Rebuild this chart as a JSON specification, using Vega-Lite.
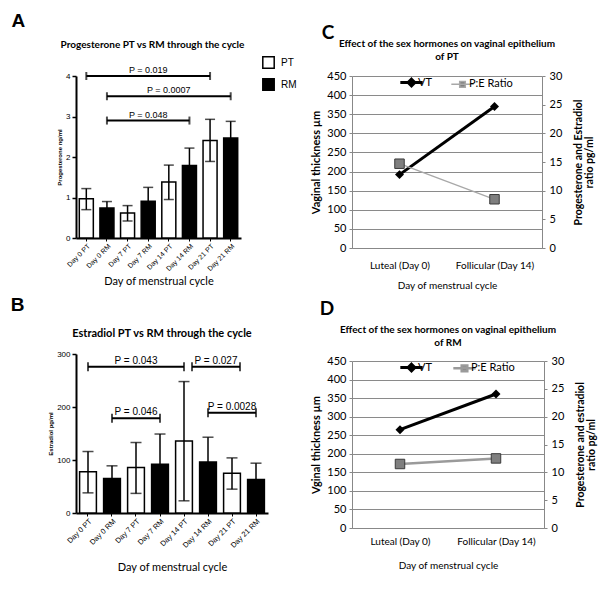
{
  "$schema": "https://vega.github.io/schema/vega-lite/v6.json",
  "background": "white",
  "padding": {"left": 10, "top": 12, "right": 4, "bottom": 4},
  "config": {"view": {"stroke": null}},
  "datasets": {
    "A": [
      {"cat": "Day 0 PT", "group": "PT", "value": 0.97, "lo": 0.70, "hi": 1.22},
      {"cat": "Day 0 RM", "group": "RM", "value": 0.74, "lo": 0.58, "hi": 0.90},
      {"cat": "Day 7 PT", "group": "PT", "value": 0.62, "lo": 0.42, "hi": 0.80},
      {"cat": "Day 7 RM", "group": "RM", "value": 0.91, "lo": 0.57, "hi": 1.25},
      {"cat": "Day 14 PT", "group": "PT", "value": 1.38, "lo": 0.95, "hi": 1.80},
      {"cat": "Day 14 RM", "group": "RM", "value": 1.79, "lo": 1.36, "hi": 2.22},
      {"cat": "Day 21 PT", "group": "PT", "value": 2.41, "lo": 1.89, "hi": 2.93},
      {"cat": "Day 21 RM", "group": "RM", "value": 2.47, "lo": 2.06, "hi": 2.88}
    ],
    "Abr": [
      {"from": "Day 0 PT", "to": "Day 21 PT", "mid": "Day 7 RM", "y": 4.0, "label": "P = 0.019"},
      {"from": "Day 0 RM", "to": "Day 21 RM", "mid": "Day 14 PT", "y": 3.5, "label": "P = 0.0007"},
      {"from": "Day 0 RM", "to": "Day 14 RM", "mid": "Day 7 RM", "y": 2.9, "label": "P = 0.048"}
    ],
    "B": [
      {"cat": "Day 0 PT", "group": "PT", "value": 78, "lo": 38, "hi": 116},
      {"cat": "Day 0 RM", "group": "RM", "value": 65, "lo": 41, "hi": 89},
      {"cat": "Day 7 PT", "group": "PT", "value": 86, "lo": 37, "hi": 133},
      {"cat": "Day 7 RM", "group": "RM", "value": 92, "lo": 35, "hi": 149},
      {"cat": "Day 14 PT", "group": "PT", "value": 136, "lo": 23, "hi": 248},
      {"cat": "Day 14 RM", "group": "RM", "value": 96, "lo": 49, "hi": 143},
      {"cat": "Day 21 PT", "group": "PT", "value": 75, "lo": 45, "hi": 104},
      {"cat": "Day 21 RM", "group": "RM", "value": 63, "lo": 32, "hi": 94}
    ],
    "Bbr": [
      {"from": "Day 0 PT", "to": "Day 14 PT", "mid": "Day 7 PT", "y": 276, "label": "P = 0.043"},
      {"from": "Day 14 PT", "to": "Day 21 PT", "mid": "Day 14 RM", "y": 276, "label": "P = 0.027"},
      {"from": "Day 0 RM", "to": "Day 7 RM", "mid": "Day 7 PT", "y": 179, "label": "P = 0.046"},
      {"from": "Day 14 RM", "to": "Day 21 RM", "mid": "Day 21 PT", "y": 189, "label": "P = 0.0028"}
    ],
    "C": [
      {"phase": "Luteal (Day 0)", "VT": 192, "PE": 14.7},
      {"phase": "Follicular (Day 14)", "VT": 370, "PE": 8.5}
    ],
    "D": [
      {"phase": "Luteal (Day 0)", "VT": 265, "PE": 11.5},
      {"phase": "Follicular (Day 14)", "VT": 361, "PE": 12.5}
    ]
  },
  "spacing": 13,
  "resolve": {"scale": {"color": "independent", "fill": "independent"}, "legend": {"color": "independent", "fill": "independent"}},
  "hconcat": [
    {
      "spacing": 9,
      "resolve": {"scale": {"fill": "independent"}, "legend": {"fill": "independent"}},
      "vconcat": [
        {
          "title": {"text": "A", "anchor": "start", "font": "Liberation Sans", "fontSize": 19, "fontWeight": "bold", "color": "black", "dx": -45, "offset": 9},
          "resolve": {"scale": {"fill": "independent"}, "legend": {"fill": "independent"}},
          "vconcat": [
            {
              "width": 165,
              "height": 162,
              "title": {"text": "Progesterone PT vs RM through the cycle", "font": "Lato", "fontSize": 10, "fontWeight": "bold", "color": "black", "frame": "group", "anchor": "middle", "dx": -6, "offset": 6},
              "layer": [
                {
                  "data": {"name": "A"},
                  "layer": [
                    {
                      "mark": {"type": "bar", "stroke": "black", "strokeWidth": 1.5},
                      "encoding": {
                        "x": {"field": "cat", "type": "nominal", "sort": null,
                          "scale": {"domain": ["Day 0 PT", "Day 0 RM", "Day 7 PT", "Day 7 RM", "Day 14 PT", "Day 14 RM", "Day 21 PT", "Day 21 RM"], "paddingInner": 0.32, "paddingOuter": 0.16},
                          "axis": {"title": "Day of menstrual cycle", "titleFont": "Lato", "titleFontSize": 11, "titleFontWeight": "normal", "titleColor": "black", "labelAngle": -45, "labelFont": "Liberation Sans", "labelFontSize": 7, "labelColor": "black", "labelPadding": 1, "domainColor": "black", "domainWidth": 2, "tickColor": "black", "tickSize": 3, "titlePadding": 4}},
                        "y": {"field": "value", "type": "quantitative", "scale": {"domain": [0, 4], "nice": false},
                          "axis": {"title": "Progesterone ng/ml", "titleFont": "Liberation Sans", "titleFontSize": 6, "titleFontWeight": "bold", "titleColor": "black", "values": [0, 1, 2, 3, 4], "labelFont": "Liberation Sans", "labelFontSize": 8, "labelColor": "black", "domainColor": "black", "domainWidth": 2, "tickColor": "black", "tickWidth": 1.5, "tickSize": 4, "grid": false, "titlePadding": 3}},
                        "fill": {"field": "group", "type": "nominal", "scale": {"domain": ["PT", "RM"], "range": ["white", "black"]},
                          "legend": {"title": null, "orient": "none", "legendX": 186, "legendY": -20, "symbolType": "square", "symbolSize": 130, "symbolStrokeColor": "black", "symbolStrokeWidth": 1.5, "labelFont": "Liberation Sans", "labelFontSize": 10, "labelColor": "black", "rowPadding": 3, "labelOffset": 6}}
                      }
                    },
                    {
                      "mark": {"type": "rule", "color": "black", "strokeWidth": 1.5},
                      "encoding": {"x": {"field": "cat", "type": "nominal"}, "y": {"field": "lo", "type": "quantitative"}, "y2": {"field": "hi"}}
                    },
                    {
                      "mark": {"type": "tick", "color": "black", "thickness": 1.5, "size": 10},
                      "encoding": {"x": {"field": "cat", "type": "nominal"}, "y": {"field": "hi", "type": "quantitative"}}
                    },
                    {
                      "mark": {"type": "tick", "color": "black", "thickness": 1.5, "size": 10},
                      "encoding": {"x": {"field": "cat", "type": "nominal"}, "y": {"field": "lo", "type": "quantitative"}}
                    }
                  ]
                },
                {
                  "data": {"name": "Abr"},
                  "layer": [
                    {"mark": {"type": "rule", "color": "black", "strokeWidth": 2},
                      "encoding": {"x": {"field": "from", "type": "nominal"}, "x2": {"field": "to"}, "y": {"field": "y", "type": "quantitative"}}},
                    {"mark": {"type": "tick", "orient": "vertical", "color": "black", "thickness": 2, "size": 8},
                      "encoding": {"x": {"field": "from", "type": "nominal"}, "y": {"field": "y", "type": "quantitative"}}},
                    {"mark": {"type": "tick", "orient": "vertical", "color": "black", "thickness": 2, "size": 8},
                      "encoding": {"x": {"field": "to", "type": "nominal"}, "y": {"field": "y", "type": "quantitative"}}},
                    {"mark": {"type": "text", "font": "Liberation Sans", "fontSize": 9, "baseline": "bottom", "dy": -1, "color": "black"},
                      "encoding": {"x": {"field": "mid", "type": "nominal"}, "y": {"field": "y", "type": "quantitative"}, "text": {"field": "label"}}}
                  ]
                }
              ]
            }
          ]
        },
        {
          "title": {"text": "B", "anchor": "start", "font": "Liberation Sans", "fontSize": 19, "fontWeight": "bold", "color": "black", "dx": -37, "offset": 13},
          "vconcat": [
            {
              "width": 192,
              "height": 159,
              "title": {"text": "Estradiol PT vs RM through the cycle", "font": "Lato", "fontSize": 11, "fontWeight": "bold", "color": "black", "frame": "group", "anchor": "middle", "dx": -10, "offset": 11},
              "layer": [
                {
                  "data": {"name": "B"},
                  "layer": [
                    {
                      "mark": {"type": "bar", "stroke": "black", "strokeWidth": 1.5},
                      "encoding": {
                        "x": {"field": "cat", "type": "nominal", "sort": null,
                          "scale": {"domain": ["Day 0 PT", "Day 0 RM", "Day 7 PT", "Day 7 RM", "Day 14 PT", "Day 14 RM", "Day 21 PT", "Day 21 RM"], "paddingInner": 0.3, "paddingOuter": 0.15},
                          "axis": {"title": "Day of menstrual cycle", "titleFont": "Lato", "titleFontSize": 11, "titleFontWeight": "normal", "titleColor": "black", "labelAngle": -45, "labelFont": "Liberation Sans", "labelFontSize": 7.5, "labelColor": "black", "labelPadding": 1, "domainColor": "black", "domainWidth": 2, "tickColor": "black", "tickSize": 3, "titlePadding": 13}},
                        "y": {"field": "value", "type": "quantitative", "scale": {"domain": [0, 300], "nice": false},
                          "axis": {"title": "Estradiol pg/ml", "titleFont": "Liberation Sans", "titleFontSize": 6, "titleFontWeight": "bold", "titleColor": "black", "values": [0, 100, 200, 300], "labelFont": "Liberation Sans", "labelFontSize": 8, "labelColor": "black", "domainColor": "black", "domainWidth": 2, "tickColor": "black", "tickWidth": 1.5, "tickSize": 4, "grid": false, "titlePadding": 3}},
                        "fill": {"field": "group", "type": "nominal", "scale": {"domain": ["PT", "RM"], "range": ["white", "black"]}, "legend": null}
                      }
                    },
                    {
                      "mark": {"type": "rule", "color": "black", "strokeWidth": 1.5},
                      "encoding": {"x": {"field": "cat", "type": "nominal"}, "y": {"field": "lo", "type": "quantitative"}, "y2": {"field": "hi"}}
                    },
                    {
                      "mark": {"type": "tick", "color": "black", "thickness": 1.5, "size": 11},
                      "encoding": {"x": {"field": "cat", "type": "nominal"}, "y": {"field": "hi", "type": "quantitative"}}
                    },
                    {
                      "mark": {"type": "tick", "color": "black", "thickness": 1.5, "size": 11},
                      "encoding": {"x": {"field": "cat", "type": "nominal"}, "y": {"field": "lo", "type": "quantitative"}}
                    }
                  ]
                },
                {
                  "data": {"name": "Bbr"},
                  "transform": [{"filter": "datum.label !== 'P = 0.027'"}],
                  "layer": [
                    {"mark": {"type": "rule", "color": "black", "strokeWidth": 2},
                      "encoding": {"x": {"field": "from", "type": "nominal"}, "x2": {"field": "to"}, "y": {"field": "y", "type": "quantitative"}}},
                    {"mark": {"type": "tick", "orient": "vertical", "color": "black", "thickness": 2, "size": 9},
                      "encoding": {"x": {"field": "from", "type": "nominal"}, "y": {"field": "y", "type": "quantitative"}}},
                    {"mark": {"type": "tick", "orient": "vertical", "color": "black", "thickness": 2, "size": 9},
                      "encoding": {"x": {"field": "to", "type": "nominal"}, "y": {"field": "y", "type": "quantitative"}}},
                    {"mark": {"type": "text", "font": "Liberation Sans", "fontSize": 10, "baseline": "bottom", "dy": -1, "color": "black"},
                      "encoding": {"x": {"field": "mid", "type": "nominal"}, "y": {"field": "y", "type": "quantitative"}, "text": {"field": "label"}}}
                  ]
                },
                {
                  "data": {"name": "Bbr"},
                  "transform": [{"filter": "datum.label === 'P = 0.027'"}],
                  "layer": [
                    {"mark": {"type": "rule", "color": "black", "strokeWidth": 2, "xOffset": 8, "x2Offset": 8},
                      "encoding": {"x": {"field": "from", "type": "nominal"}, "x2": {"field": "to"}, "y": {"field": "y", "type": "quantitative"}}},
                    {"mark": {"type": "tick", "orient": "vertical", "color": "black", "thickness": 2, "size": 9, "xOffset": 8},
                      "encoding": {"x": {"field": "from", "type": "nominal"}, "y": {"field": "y", "type": "quantitative"}}},
                    {"mark": {"type": "tick", "orient": "vertical", "color": "black", "thickness": 2, "size": 9, "xOffset": 8},
                      "encoding": {"x": {"field": "to", "type": "nominal"}, "y": {"field": "y", "type": "quantitative"}}},
                    {"mark": {"type": "text", "font": "Liberation Sans", "fontSize": 10, "baseline": "bottom", "dy": -1, "color": "black", "xOffset": 8},
                      "encoding": {"x": {"field": "mid", "type": "nominal"}, "y": {"field": "y", "type": "quantitative"}, "text": {"field": "label"}}}
                  ]
                }
              ]
            }
          ]
        }
      ]
    },
    {
      "spacing": 10,
      "resolve": {"scale": {"color": "independent"}, "legend": {"color": "independent"}},
      "vconcat": [
        {
          "title": {"text": "C", "anchor": "start", "font": "Lato", "fontSize": 19, "fontWeight": "bold", "color": "black", "dx": 11, "offset": -4},
          "resolve": {"scale": {"color": "independent"}, "legend": {"color": "independent"}},
          "vconcat": [
            {
              "width": 190,
              "height": 172,
              "title": {"text": ["Effect of the sex hormones on vaginal epithelium", "of PT"], "font": "Lato", "fontSize": 10, "fontWeight": "bold", "color": "black", "lineHeight": 13, "frame": "group", "anchor": "middle", "offset": 8},
              "data": {"name": "C"},
              "encoding": {
                "x": {"field": "phase", "type": "nominal", "sort": null, "scale": {"paddingInner": 0, "paddingOuter": 0},
                  "axis": {"title": "Day of menstrual cycle", "titleFont": "Lato", "titleFontSize": 10, "titleFontWeight": "normal", "titleColor": "black", "labelAngle": 0, "labelFont": "Lato", "labelFontSize": 10, "labelColor": "black", "labelPadding": 12, "domainColor": "#888", "ticks": false, "titlePadding": 10}}
              },
              "layer": [
                {
                  "encoding": {"y": {"field": "VT", "type": "quantitative", "scale": {"domain": [0, 450], "nice": false},
                    "axis": {"title": "Vaginal thickness µm", "titleFont": "Lato", "titleFontSize": 11, "titleFontWeight": "bold", "titleColor": "black", "values": [0, 50, 100, 150, 200, 250, 300, 350, 400, 450], "labelFont": "Lato", "labelFontSize": 11, "labelColor": "black", "domainColor": "#888", "tickColor": "#888", "tickSize": 3, "grid": true, "gridColor": "#8a8a8a", "gridOpacity": 1, "labelPadding": 3, "titlePadding": 5}}},
                  "layer": [
                    {"mark": {"type": "line", "strokeWidth": 3},
                      "encoding": {"color": {"datum": "VT", "type": "nominal", "scale": {"domain": ["VT", "P:E Ratio"], "range": ["black", "#a8a8a8"]},
                        "legend": {"title": null, "orient": "none", "legendX": 54, "legendY": 1, "direction": "horizontal", "labelFont": "Lato", "labelFontSize": 11, "labelColor": "black", "symbolSize": 500, "columnPadding": 16, "labelOffset": 1,
                          "encode": {"symbols": {"update": {
                            "shape": {"signal": "datum.value === 'VT' ? 'M-1,0L1,0M0,-0.3L0.3,0L0,0.3L-0.3,0Z' : 'M-1,0L1,0M-0.25,-0.25L0.25,-0.25L0.25,0.25L-0.25,0.25Z'"},
                            "fill": {"signal": "datum.value === 'VT' ? 'black' : '#7f7f7f'"},
                            "strokeWidth": {"signal": "datum.value === 'VT' ? 3 : 1.5"}}}}}}}},
                    {"mark": {"type": "point", "shape": "diamond", "filled": true, "color": "black", "size": 80, "opacity": 1}}
                  ]
                },
                {
                  "encoding": {"y": {"field": "PE", "type": "quantitative", "scale": {"domain": [0, 30], "nice": false},
                    "axis": {"orient": "right", "title": ["Progesterone and Estradiol", "ratio pg/ml"], "titleAngle": 270, "titleFont": "Lato", "titleFontSize": 10.5, "titleLineHeight": 11, "titleFontWeight": "bold", "titleColor": "black", "values": [0, 5, 10, 15, 20, 25, 30], "labelFont": "Lato", "labelFontSize": 11, "labelColor": "black", "domainColor": "#888", "tickColor": "#888", "tickSize": 3, "grid": false, "labelPadding": 4, "titlePadding": 11}}},
                  "layer": [
                    {"mark": {"type": "line", "strokeWidth": 1.3},
                      "encoding": {"color": {"datum": "P:E Ratio", "type": "nominal"}}},
                    {"mark": {"type": "point", "shape": "square", "filled": true, "fill": "#7f7f7f", "stroke": "#3a3a3a", "strokeWidth": 1, "size": 90, "opacity": 1}}
                  ]
                }
              ],
              "resolve": {"scale": {"y": "independent"}}
            }
          ]
        },
        {
          "title": {"text": "D", "anchor": "start", "font": "Lato", "fontSize": 19, "fontWeight": "bold", "color": "black", "dx": 9, "offset": 6},
          "resolve": {"scale": {"color": "independent"}, "legend": {"color": "independent"}},
          "vconcat": [
            {
              "width": 192,
              "height": 167,
              "title": {"text": ["Effect of the sex hormones on vaginal epithelium", "of RM"], "font": "Lato", "fontSize": 10, "fontWeight": "bold", "color": "black", "lineHeight": 13, "frame": "group", "anchor": "middle", "offset": 7},
              "data": {"name": "D"},
              "encoding": {
                "x": {"field": "phase", "type": "nominal", "sort": null, "scale": {"paddingInner": 0, "paddingOuter": 0},
                  "axis": {"title": "Day of menstrual cycle", "titleFont": "Lato", "titleFontSize": 10, "titleFontWeight": "normal", "titleColor": "black", "labelAngle": 0, "labelFont": "Lato", "labelFontSize": 10, "labelColor": "black", "labelPadding": 8, "domainColor": "#888", "ticks": false, "titlePadding": 14}}
              },
              "layer": [
                {
                  "encoding": {"y": {"field": "VT", "type": "quantitative", "scale": {"domain": [0, 450], "nice": false},
                    "axis": {"title": "Vginal thickness µm", "titleFont": "Lato", "titleFontSize": 11, "titleFontWeight": "bold", "titleColor": "black", "values": [0, 50, 100, 150, 200, 250, 300, 350, 400, 450], "labelFont": "Lato", "labelFontSize": 11, "labelColor": "black", "domainColor": "#888", "tickColor": "#888", "tickSize": 3, "grid": true, "gridColor": "#8a8a8a", "gridOpacity": 1, "labelPadding": 3, "titlePadding": 5}}},
                  "layer": [
                    {"mark": {"type": "line", "strokeWidth": 3},
                      "encoding": {"color": {"datum": "VT", "type": "nominal", "scale": {"domain": ["VT", "P:E Ratio"], "range": ["black", "#9a9a9a"]},
                        "legend": {"title": null, "orient": "none", "legendX": 54, "legendY": 1, "direction": "horizontal", "labelFont": "Lato", "labelFontSize": 11, "labelColor": "black", "symbolSize": 500, "columnPadding": 16, "labelOffset": 1,
                          "encode": {"symbols": {"update": {
                            "shape": {"signal": "datum.value === 'VT' ? 'M-1,0L1,0M0,-0.3L0.3,0L0,0.3L-0.3,0Z' : 'M-1,0L1,0M-0.25,-0.25L0.25,-0.25L0.25,0.25L-0.25,0.25Z'"},
                            "fill": {"signal": "datum.value === 'VT' ? 'black' : '#7f7f7f'"},
                            "strokeWidth": {"signal": "datum.value === 'VT' ? 3 : 2.5"}}}}}}}},
                    {"mark": {"type": "point", "shape": "diamond", "filled": true, "color": "black", "size": 80, "opacity": 1}}
                  ]
                },
                {
                  "encoding": {"y": {"field": "PE", "type": "quantitative", "scale": {"domain": [0, 30], "nice": false},
                    "axis": {"orient": "right", "title": ["Progesterone and estradiol", "ratio pg/ml"], "titleAngle": 270, "titleFont": "Lato", "titleFontSize": 10.5, "titleLineHeight": 11, "titleFontWeight": "bold", "titleColor": "black", "values": [0, 5, 10, 15, 20, 25, 30], "labelFont": "Lato", "labelFontSize": 11, "labelColor": "black", "domainColor": "#888", "tickColor": "#888", "tickSize": 3, "grid": false, "labelPadding": 4, "titlePadding": 11}}},
                  "layer": [
                    {"mark": {"type": "line", "strokeWidth": 2.5},
                      "encoding": {"color": {"datum": "P:E Ratio", "type": "nominal"}}},
                    {"mark": {"type": "point", "shape": "square", "filled": true, "fill": "#7f7f7f", "stroke": "#3a3a3a", "strokeWidth": 1, "size": 90, "opacity": 1}}
                  ]
                }
              ],
              "resolve": {"scale": {"y": "independent"}}
            }
          ]
        }
      ]
    }
  ]
}
